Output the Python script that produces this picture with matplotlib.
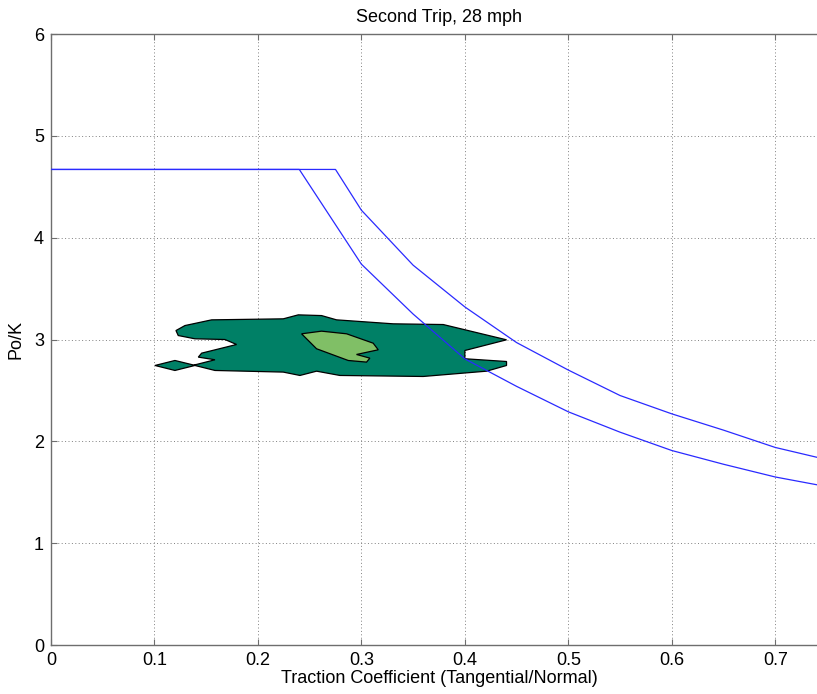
import matplotlib
matplotlib.use("Agg")
import matplotlib.pyplot as plt
from matplotlib.ticker import FormatStrFormatter

plt.rcParams["font.family"] = ["Liberation Sans", "DejaVu Sans"]

# Adhesion limit curves (traction coefficient vs. Po/K)
upper_x = [0.0, 0.275, 0.30, 0.35, 0.40, 0.45, 0.50, 0.55, 0.60, 0.65, 0.70, 0.75]
upper_y = [4.67, 4.67, 4.27, 3.73, 3.32, 2.97, 2.70, 2.45, 2.27, 2.11, 1.94, 1.82]

lower_x = [0.0, 0.24, 0.30, 0.35, 0.40, 0.45, 0.50, 0.55, 0.60, 0.65, 0.70, 0.75]
lower_y = [4.67, 4.67, 3.74, 3.25, 2.81, 2.54, 2.29, 2.09, 1.91, 1.775, 1.65, 1.555]

# Occurrence density region (outer level)
outer_x = [0.1208, 0.1295, 0.1553, 0.2245, 0.2390, 0.2615, 0.2760, 0.3308,
           0.3791, 0.4403, 0.4000, 0.4000, 0.4403, 0.4403, 0.4210, 0.3597,
           0.2792, 0.2567, 0.2406, 0.2245, 0.1585, 0.1391, 0.1198, 0.1005,
           0.1198, 0.1375, 0.1407, 0.1585, 0.1424, 0.1456, 0.1794, 0.1681,
           0.1391, 0.1230]
outer_y = [3.088, 3.137, 3.193, 3.203, 3.242, 3.235, 3.193, 3.154,
           3.147, 2.997, 2.892, 2.811, 2.784, 2.745, 2.689, 2.637,
           2.647, 2.689, 2.647, 2.680, 2.696, 2.745, 2.696, 2.745,
           2.794, 2.750, 2.755, 2.801, 2.827, 2.866, 2.951, 3.000,
           3.007, 3.039]

# Occurrence density region (inner level)
inner_x = [0.2422, 0.2615, 0.2857, 0.3114, 0.3163, 0.2953, 0.3082, 0.3050,
           0.2873, 0.2567]
inner_y = [3.056, 3.082, 3.056, 2.964, 2.899, 2.853, 2.817, 2.778,
           2.794, 2.909]

x_ticks = [0, 0.1, 0.2, 0.3, 0.4, 0.5, 0.6, 0.7]
y_ticks = [0, 1, 2, 3, 4, 5, 6]

fig = plt.figure(figsize=(8.17, 6.94), dpi=100)
ax = fig.add_axes([0.0624, 0.0706, 0.9498, 0.8804])

ax.fill(outer_x, outer_y, facecolor="#008066", edgecolor="black", linewidth=0.9, zorder=2)
ax.fill(inner_x, inner_y, facecolor="#80bf66", edgecolor="black", linewidth=0.9, zorder=3)

ax.plot(upper_x, upper_y, color="#2a2aff", linewidth=0.9, zorder=4)
ax.plot(lower_x, lower_y, color="#2a2aff", linewidth=0.9, zorder=4)

ax.set_xlim(0, 0.75)
ax.set_ylim(0, 6)
ax.set_xticks(x_ticks)
ax.set_yticks(y_ticks)
ax.xaxis.set_major_formatter(FormatStrFormatter("%g"))
ax.yaxis.set_major_formatter(FormatStrFormatter("%g"))

ax.grid(True, color="#808080", linestyle=(0, (1, 2.5)), linewidth=0.7)
ax.set_axisbelow(True)
for s in ax.spines.values():
    s.set_color("#6e6e6e")
    s.set_linewidth(1.0)
ax.spines["right"].set_visible(False)
ax.tick_params(direction="in", length=4, width=0.8, color="#6e6e6e",
               top=True, right=False, labelsize=13, pad=5)

ax.set_title("Second Trip, 28 mph", fontsize=13, pad=9)
ax.set_xlabel("Traction Coefficient (Tangential/Normal)", fontsize=13, labelpad=1)
ax.set_ylabel("Po/K", fontsize=13, labelpad=7)

fig.savefig("out.png", dpi=100)
